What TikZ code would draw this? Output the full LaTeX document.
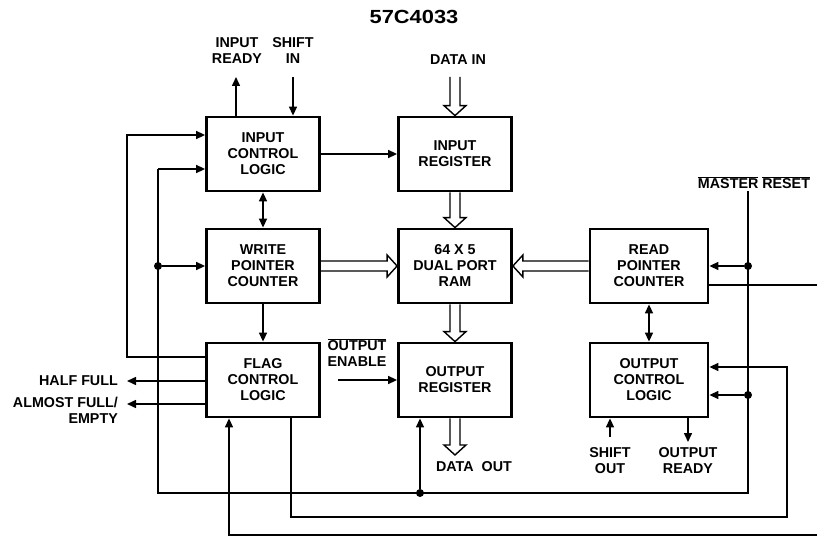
\documentclass[tikz,border=0pt]{standalone}
\usepackage{fontspec}
\usepackage{graphicx}
\setmainfont{Liberation Sans}
\usetikzlibrary{arrows.meta,calc}
\newcommand{\ovl}[1]{$\overline{\mbox{#1}}$}
\newcommand{\busdown}[2]{\draw[bus] let \p1=#1, \p2=#2 in (\x1-5pt,\y1) -- (\x1-5pt,\y2+10pt) -- (\x1-11pt,\y2+10pt) -- (\x1,\y2) -- (\x1+11pt,\y2+10pt) -- (\x1+5pt,\y2+10pt) -- (\x1+5pt,\y1);}
\newcommand{\busright}[2]{\draw[bus] let \p1=#1, \p2=#2 in (\x1,\y1+5pt) -- (\x2-10pt,\y1+5pt) -- (\x2-10pt,\y1+11pt) -- (\x2,\y1) -- (\x2-10pt,\y1-11pt) -- (\x2-10pt,\y1-5pt) -- (\x1,\y1-5pt);}
\newcommand{\busleft}[2]{\draw[bus] let \p1=#1, \p2=#2 in (\x1,\y1+5pt) -- (\x2+10pt,\y1+5pt) -- (\x2+10pt,\y1+11pt) -- (\x2,\y1) -- (\x2+10pt,\y1-11pt) -- (\x2+10pt,\y1-5pt) -- (\x1,\y1-5pt);}
\begin{document}
\begin{tikzpicture}[x=1pt,y=-1pt,
  every node/.style={font=\fontsize{14.3}{16}\selectfont\bfseries, inner sep=0pt},
  blk/.style={draw, line width=2.8pt, minimum width=113pt, minimum height=74pt, align=center},
  lbl/.style={align=center},
  wire/.style={line width=1.5pt},
  arr/.style={wire, -{Triangle[length=9pt,width=8pt]}},
  darr/.style={wire, {Triangle[length=9pt,width=8pt]}-{Triangle[length=9pt,width=8pt]}},
  bus/.style={line width=1.4pt, line join=miter},
  dot/.style={circle, fill, minimum size=8pt}]
\useasboundingbox (0,0) rectangle (817,537);
% title
\node (title) at (414,17) {\fontsize{19}{21}\selectfont\bfseries\scalebox{1.15}[1]{57C4033}};
% blocks
\node[blk] (icl)  at (263,154) {INPUT\\CONTROL\\LOGIC};
\node[blk] (ireg) at (455,154) {INPUT\\REGISTER};
\node[blk] (wpc)  at (263,266) {WRITE\\POINTER\\COUNTER};
\node[blk] (ram)  at (455,266) {64 X 5\\DUAL PORT\\RAM};
\node[blk, minimum width=118pt] (rpc) at (649,266) {READ\\POINTER\\COUNTER};
\node[blk] (fcl)  at (263,380) {FLAG\\CONTROL\\LOGIC};
\node[blk] (oreg) at (455,380) {OUTPUT\\REGISTER};
\node[blk, minimum width=118pt] (ocl) at (649,380) {OUTPUT\\CONTROL\\LOGIC};
% labels
\node[lbl] (lir) at (237,51) {INPUT\\READY};
\node[lbl] (lsi) at (293,51) {SHIFT\\IN};
\node[lbl] (ldi) at (458,60) {DATA IN};
\node[lbl] (lmr) at (754,183) {\ovl{MASTER} \ovl{RESET}};
\node[lbl] (loe) at (357,353) {\ovl{OUTPUT}\\ENABLE};
\node[anchor=east] (lhf) at (118,381) {HALF FULL};
\node[anchor=east, align=right] (laf) at (118,410) {ALMOST FULL/\\EMPTY};
\node[lbl] (ldo) at (474,467) {DATA\ \ OUT};
\node[lbl] (lso) at (610,461) {SHIFT\\OUT};
\node[lbl] (lor) at (688,461) {OUTPUT\\READY};
% coordinates
\coordinate (ir) at (236,77);
\coordinate (si) at (293,77);
\coordinate (di) at (455,77);
\coordinate (dout) at (455,455);
\coordinate (fbA) at (127,357);
\coordinate (fbB) at (127,135);
\coordinate (inTop) at (158,169);
\coordinate (inBot) at (158,493);
\coordinate (mrTop) at (748,191);
\coordinate (mrBot) at (748,493);
\coordinate (hf) at (127,381);
\coordinate (af) at (127,404);
\coordinate (oe) at (338,380);
\coordinate (rpcOut) at (817,285);
\coordinate (lpA) at (291,517);
\coordinate (lpB) at (787,517);
\coordinate (lpC) at (787,367);
\coordinate (btA) at (229,535);
\coordinate (btB) at (817,535);
\coordinate (so) at (610,437);
\coordinate (orr) at (688,442);
% dots
\node[dot] (dW)  at (158,266) {};
\node[dot] (dO)  at (420,493) {};
\node[dot] (dR1) at (748,266) {};
\node[dot] (dR2) at (748,395) {};
% top signals
\draw[arr] (icl.north -| ir) -- (ir);
\draw[arr] (si) -- (si |- icl.north);
\busdown{(di)}{(ireg.north)}
% block connections
\draw[arr] (icl.east) -- (ireg.west);
\draw[darr] (icl.south) -- (wpc.north);
\draw[arr] (wpc.south) -- (fcl.north);
\busdown{(ireg.south)}{(ram.north)}
\busdown{(ram.south)}{(oreg.north)}
\busdown{(oreg.south)}{(dout)}
\busright{(wpc.east)}{(ram.west)}
\busleft{(rpc.west)}{(ram.east)}
\draw[darr] (rpc.south) -- (ocl.north);
% outer feedback
\draw[arr] (fcl.west |- fbA) -- (fbA) -- (fbB) -- (fbB -| icl.west);
% master reset network
\draw[wire] (mrTop) -- (mrBot) -- (inBot) -- (inTop);
\draw[arr] (inTop) -- (inTop -| icl.west);
\draw[arr] (dW) -- (wpc.west);
\draw[arr] (dO) -- (dO |- oreg.south);
\draw[arr] (dR1) -- (rpc.east);
\draw[arr] (dR2) -- (dR2 -| ocl.east);
% read pointer output
\draw[wire] (rpc.east |- rpcOut) -- (rpcOut);
% flag to output control loop
\draw[arr] (fcl.south -| lpA) -- (lpA) -- (lpB) -- (lpC) -- (lpC -| ocl.east);
% bottom line into flag
\draw[arr] (btB) -- (btA) -- (btA |- fcl.south);
% flag outputs
\draw[arr] (fcl.west |- hf) -- (hf);
\draw[arr] (fcl.west |- af) -- (af);
% output enable
\draw[arr] (oe) -- (oreg.west);
% shift out / output ready
\draw[arr] (so) -- (so |- ocl.south);
\draw[arr] (ocl.south -| orr) -- (orr);
\end{tikzpicture}
\end{document}
